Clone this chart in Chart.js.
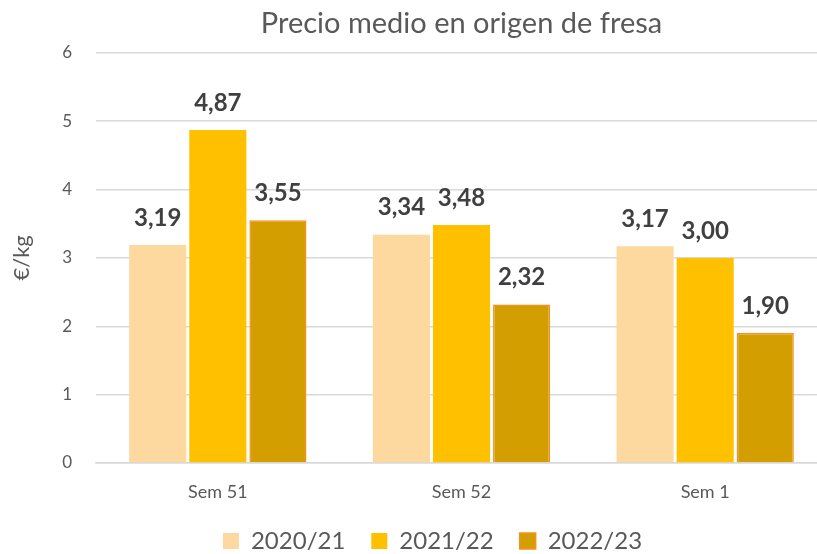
<!DOCTYPE html>
<html>
<head>
<meta charset="utf-8">
<script src="https://cdn.jsdelivr.net/npm/chart.js@4.4.0/dist/chart.umd.min.js"></script>
<style>
  html, body { margin: 0; padding: 0; background: #fff; overflow: hidden; }
  #wrap { width: 860px; height: 554px; }
</style>
</head>
<body>
<div id="wrap"><canvas id="barChart"></canvas></div>
<script>
// datos
const weeks = ['Sem 51', 'Sem 52', 'Sem 1'];
const seasons = ['2020/21', '2021/22', '2022/23'];
const prices2021 = [3.19, 3.34, 3.17];
const prices2122 = [4.87, 3.48, 3.00];
const prices2223 = [3.55, 2.32, 1.90];
const yTicks = [0, 1, 2, 3, 4, 5, 6];

const FONT = 'Lato, Carlito, Calibri, sans-serif';

// etiquetas encima de cada barra, con coma decimal
const valueLabels = {
    id: 'valueLabels',
    afterDatasetsDraw(chart) {
        const ctx = chart.ctx;
        ctx.save();
        ctx.font = 'bold 24px ' + FONT;
        ctx.fillStyle = '#404040';
        ctx.textAlign = 'center';
        ctx.textBaseline = 'middle';
        chart.data.datasets.forEach((ds, i) => {
            chart.getDatasetMeta(i).data.forEach((bar, j) => {
                const txt = ds.data[j].toFixed(2).replace('.', ',');
                ctx.fillText(txt, bar.x, bar.y - 27);
            });
        });
        ctx.restore();
    }
};

// la leyenda del original esta un poco desplazada a la derecha
const nudgeLegend = {
    id: 'nudgeLegend',
    afterLayout(chart) {
        chart.legend.left += 15;
        chart.legend.right += 15;
    }
};

const ctx = document.getElementById('barChart').getContext('2d');
new Chart(ctx, {
    type: 'bar',
    data: {
        labels: weeks,
        datasets: [{
            label: seasons[0],
            data: prices2021,
            backgroundColor: '#FDD89F',
            borderWidth: 0
        }, {
            label: seasons[1],
            data: prices2122,
            backgroundColor: '#FFC000',
            borderWidth: 0
        }, {
            label: seasons[2],
            data: prices2223,
            backgroundColor: '#D39E00',
            borderColor: '#F7901E',
            borderWidth: 1.5
        }]
    },
    options: {
        responsive: true,
        maintainAspectRatio: false,
        animation: false,
        categoryPercentage: 0.74,
        barPercentage: 0.95,
        layout: { padding: { left: 8, right: 33, top: 6, bottom: -9 } },
        plugins: {
            title: {
                display: true,
                fullSize: false,
                text: 'Precio medio en origen de fresa',
                color: '#595959',
                font: { family: FONT, size: 29, weight: 'normal' },
                padding: { top: 0, bottom: 12 }
            },
            legend: {
                position: 'bottom',
                labels: {
                    color: '#595959',
                    font: { family: FONT, size: 24 },
                    boxWidth: 16,
                    boxHeight: 16,
                    padding: 26
                }
            },
            tooltip: { enabled: false }
        },
        scales: {
            x: {
                grid: { display: false, drawTicks: false },
                border: { display: true, color: '#D9D9D9', width: 1.5 },
                ticks: {
                    color: '#595959',
                    font: { family: FONT, size: 18 },
                    padding: 18
                },
                afterFit(scale) { scale.height = 40; }
            },
            y: {
                min: 0,
                max: 6,
                afterBuildTicks(axis) {
                    axis.ticks = yTicks.map(v => ({ value: v }));
                },
                afterFit(scale) { scale.width = 88; },
                grid: { color: '#D9D9D9', lineWidth: 1.5, drawTicks: false },
                border: { display: false },
                ticks: {
                    color: '#595959',
                    font: { family: FONT, size: 17 },
                    padding: 24
                },
                title: {
                    display: true,
                    text: '€/kg',
                    color: '#595959',
                    font: { family: FONT, size: 22 },
                    padding: { top: 1, bottom: 0 }
                }
            }
        }
    },
    plugins: [valueLabels, nudgeLegend]
});
</script>
</body>
</html>
